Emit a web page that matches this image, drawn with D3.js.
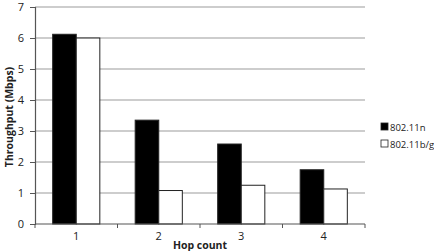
<!DOCTYPE html>
<html><head><meta charset="utf-8">
<script src="https://cdn.jsdelivr.net/npm/d3@7"></script>
<style>body{margin:0;background:#fff;}svg{display:block;}</style>
</head><body>
<script>
const categories = ["1","2","3","4"];
const seriesNames = ["802.11n","802.11b/g"];
const n80211n = [6.12, 3.35, 2.58, 1.75];
const n80211bg = [6.0, 1.08, 1.25, 1.13];
const yTicks = [0,1,2,3,4,5,6,7];
const colors = ["#000","#fff"];

const W=434,H=251;
const m={l:35,r:69,t:7,b:27};
const svg=d3.select("body").append("svg").attr("width",W).attr("height",H);
const x=d3.scaleBand().domain(categories).range([m.l,W-m.r]).paddingInner(0).paddingOuter(0);
const y=d3.scaleLinear().domain([0,7]).range([H-m.b,m.t]);
const x1=d3.scaleBand().domain(seriesNames).range([0,x.bandwidth()]).paddingOuter(0.75).paddingInner(0);
const font="'Open Sans', 'Liberation Sans', sans-serif";

// gridlines
svg.append("g").selectAll("line").data(yTicks.filter(d=>d>0)).join("line")
 .attr("x1",m.l).attr("x2",W-m.r).attr("y1",d=>y(d)).attr("y2",d=>y(d))
 .attr("stroke","#bdbdbd").attr("stroke-width",1.3);

const data=categories.map((c,i)=>({c,vals:[n80211n[i],n80211bg[i]]}));
const g=svg.append("g");
data.forEach(d=>{
  d.vals.forEach((v,j)=>{
    g.append("rect").attr("x",x(d.c)+x1(seriesNames[j])).attr("y",y(v))
     .attr("width",x1.bandwidth()).attr("height",y(0)-y(v))
     .attr("fill",colors[j]).attr("stroke","#222").attr("stroke-width",1);
  });
});

// y axis
const ya=svg.append("g").attr("transform",`translate(${m.l},0)`)
 .call(d3.axisLeft(y).tickValues(yTicks).tickSize(5).tickPadding(6).tickFormat(d3.format("d")));
ya.select(".domain").attr("stroke","#555").attr("stroke-width",1.2);
ya.selectAll(".tick line").attr("stroke","#555");
ya.selectAll("text").attr("font-family",font).attr("font-size",11).attr("fill","#222");

// x axis
const xa=svg.append("g").attr("transform",`translate(0,${H-m.b})`);
xa.append("line").attr("x1",m.l).attr("x2",W-m.r).attr("stroke","#555").attr("stroke-width",1.2);
const bounds=categories.map(c=>x(c)).concat([x(categories[categories.length-1])+x.bandwidth()]);
xa.selectAll(".tk").data(bounds).join("line").attr("class","tk")
 .attr("x1",d=>d).attr("x2",d=>d).attr("y1",0).attr("y2",4).attr("stroke","#555");
xa.selectAll(".lb").data(categories).join("text").attr("class","lb")
 .attr("x",d=>x(d)+x.bandwidth()/2).attr("y",16).attr("text-anchor","middle")
 .attr("font-family",font).attr("font-size",11).attr("fill","#222").text(d=>d);

svg.append("text").attr("x",200).attr("y",249).attr("text-anchor","middle")
 .attr("font-family",font).attr("font-size",10.5).attr("font-weight","bold").attr("fill","#222").text("Hop count");
svg.append("text").attr("transform","translate(13,117) rotate(-90)").attr("text-anchor","middle")
 .attr("font-family",font).attr("font-size",10.5).attr("font-weight","bold").attr("fill","#222").text("Throughput (Mbps)");

// legend
const lg=svg.append("g");
seriesNames.forEach((s,i)=>{
  const yy=127+i*17;
  lg.append("rect").attr("x",381).attr("y",yy-4).attr("width",7).attr("height",7)
    .attr("fill",colors[i]).attr("stroke","#222").attr("stroke-width",0.8);
  lg.append("text").attr("x",390).attr("y",yy+3.5).attr("font-family",font).attr("font-size",9.5)
    .attr("fill","#222").text(s);
});
</script>
</body></html>
